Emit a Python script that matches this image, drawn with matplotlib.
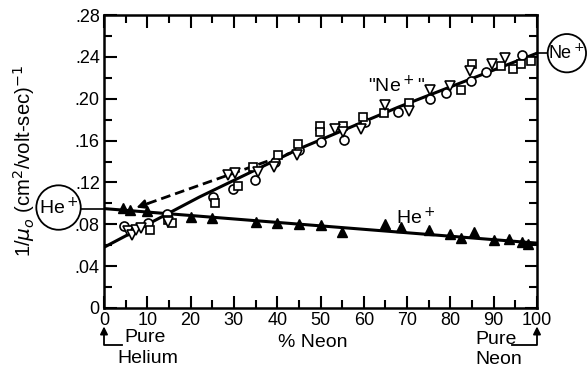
import matplotlib
matplotlib.use('Agg')
import matplotlib.pyplot as plt
from matplotlib.ticker import MultipleLocator

plt.rcParams['font.family'] = ['Liberation Sans', 'DejaVu Sans']
plt.rcParams['mathtext.fontset'] = 'dejavusans'

# He+ ions (filled triangles)
he_x = [4.5, 6, 10, 20, 25, 35, 40, 45, 50, 55, 65, 68.5, 75, 80, 82.5, 85.5, 90, 93.5, 96.5, 98]
he_y = [.096, .094, .093, .087, .086, .082, .081, .080, .079, .073, .080, .077, .075, .071,
        .067, .073, .065, .066, .063, .061]

# "Ne+" ions, three sets of runs
ne_circ_x = [4.6, 10.2, 14.5, 25.1, 29.9, 34.9, 39.5, 45, 50, 55.4, 60.3, 68, 75.3, 79, 84.7, 88.2, 96.5]
ne_circ_y = [.078, .081, .090, .106, .114, .122, .140, .151, .159, .161, .178, .1875, .200, .2055,
             .217, .2256, .2415]

ne_sq_x = [10.6, 14.7, 15.6, 25.6, 31.0, 34.5, 40.3, 44.9, 49.9, 49.9, 55.1, 59.7, 64.7, 70.5,
           82.4, 85.1, 91.7, 94.4, 96.2, 98.5]
ne_sq_y = [.075, .084, .0815, .100, .117, .135, .146, .157, .174, .168, .174, .183, .1865, .196,
           .2088, .233, .231, .2288, .2336, .236]

ne_tri_x = [5.5, 6.5, 7.5, 8.5, 14.7, 28.7, 30.3, 35.6, 39.3, 44.5, 53.3, 55.3, 59.3, 64.9, 70.5,
            75.3, 80, 84.5, 89.7, 92.5]
ne_tri_y = [.074, .070, .075, .076, .0824, .127, .1286, .130, .135, .146, .1715, .168, .1706, .194,
            .188, .208, .212, .2265, .2336, .2393]

# drawn curves
ne_fit_x = [0, 22, 45, 68, 100]
ne_fit_y = [.058, .106, .152, .192, .2435]
he_fit_x = [0, 100]
he_fit_y = [.095, .062]
dash_x = [7.5, 43]
dash_y = [.096, .148]

yticks = [0, .04, .08, .12, .16, .20, .24, .28]
ylabels = ['0', '.04', '.08', '.12', '.16', '.20', '.24', '.28']
xticks = list(range(0, 101, 10))

fig = plt.figure(figsize=(5.87, 3.68), dpi=100)
ax = fig.add_axes([104/587, 1-308/368, 433/587, 293/368])

ax.plot(ne_fit_x, ne_fit_y, color='black', lw=2.2, zorder=2)
ax.plot(he_fit_x, he_fit_y, color='black', lw=2.2, zorder=2)

# dashed line with arrow head at the low end
slope = (dash_y[1] - dash_y[0]) / (dash_x[1] - dash_x[0])
ax.plot([dash_x[0] + 2.5, dash_x[1]], [dash_y[0] + 2.5 * slope, dash_y[1]],
        color='black', lw=2, dashes=(3.5, 1.8), zorder=2)
ax.annotate('', xy=(dash_x[0], dash_y[0]), xytext=(dash_x[0] + 3, dash_y[0] + 3 * slope),
            arrowprops=dict(arrowstyle='-|>', color='black', lw=1.5, mutation_scale=14,
                            shrinkA=0, shrinkB=0))

ax.plot(he_x, he_y, linestyle='none', marker='^', ms=7.5, color='black', zorder=3)
ax.plot(ne_circ_x, ne_circ_y, linestyle='none', marker='o', ms=6.5, mfc='white', mec='black', mew=1.2, zorder=3)
ax.plot(ne_sq_x, ne_sq_y, linestyle='none', marker='s', ms=5.5, mfc='white', mec='black', mew=1.2, zorder=3)
ax.plot(ne_tri_x, ne_tri_y, linestyle='none', marker='v', ms=7, mfc='white', mec='black', mew=1.2, zorder=3)

ax.set_xlim(0, 100)
ax.set_ylim(0, .28)
ax.set_xticks(xticks)
ax.set_xticklabels([str(v) for v in xticks])
ax.set_yticks(yticks)
ax.set_yticklabels(ylabels)
ax.xaxis.set_minor_locator(MultipleLocator(5))
ax.yaxis.set_minor_locator(MultipleLocator(.02))
ax.tick_params(which='both', direction='in', top=True, right=True, width=1.5, labelsize=13)
ax.tick_params(which='major', length=9, pad=3)
ax.tick_params(which='minor', length=6)
for s in ax.spines.values():
    s.set_linewidth(1.8)

# labels on the curves
ax.text(67.5, .212, '"Ne$^+$"', fontsize=14, ha='center', va='center')
ax.text(72, .086, 'He$^+$', fontsize=14, ha='center', va='center')

# circled limiting values
ax.text(-10.5, .096, 'He$^+$', fontsize=14, ha='center', va='center', clip_on=False,
        bbox=dict(boxstyle='circle,pad=0.12', fc='white', ec='black', lw=1.3))
ax.plot([-6, 0], [.095, .095], color='black', lw=1.2, clip_on=False)
ax.text(106.9, .2435, 'Ne$^+$', fontsize=13, ha='center', va='center', clip_on=False,
        bbox=dict(boxstyle='circle,pad=0.04', fc='white', ec='black', lw=1.3))
ax.plot([100, 103], [.2435, .2435], color='black', lw=1.2, clip_on=False)

# x axis annotations
tr = ax.get_xaxis_transform()
ax.text(48.3, -0.119, '% Neon', fontsize=14, ha='center', va='center', transform=tr)
ax.text(4.8, -0.102, 'Pure', fontsize=14, ha='left', va='center', transform=tr)
ax.text(3.0, -0.171, 'Helium', fontsize=14, ha='left', va='center', transform=tr)
ax.text(85.7, -0.109, 'Pure', fontsize=14, ha='left', va='center', transform=tr)
ax.text(85.7, -0.177, 'Neon', fontsize=14, ha='left', va='center', transform=tr)
ax.plot([4.2, 0, 0], [-0.126, -0.126, -0.08], color='black', lw=1.3, transform=tr, clip_on=False)
ax.plot([94.2, 100, 100], [-0.126, -0.126, -0.08], color='black', lw=1.3, transform=tr, clip_on=False)
for xa in [0, 100]:
    ax.annotate('', xy=(xa, -0.063), xytext=(xa, -0.085), xycoords=tr, textcoords=tr,
                arrowprops=dict(arrowstyle='-|>', color='black', lw=1.3, mutation_scale=11,
                                shrinkA=0, shrinkB=0))

ylab = fig.text(24/587, 1-161/368, r'1/$\mu_o$ (cm$^2$/volt-sec)$^{-1}$', fontsize=13,
                rotation=90, ha='center', va='center')
# scale the label so it spans the same height as in the original (~192 px)
fig.canvas.draw()
h = ylab.get_window_extent().height
ylab.set_fontsize(13 * 192 / h)

fig.savefig('out.png', dpi=100)
